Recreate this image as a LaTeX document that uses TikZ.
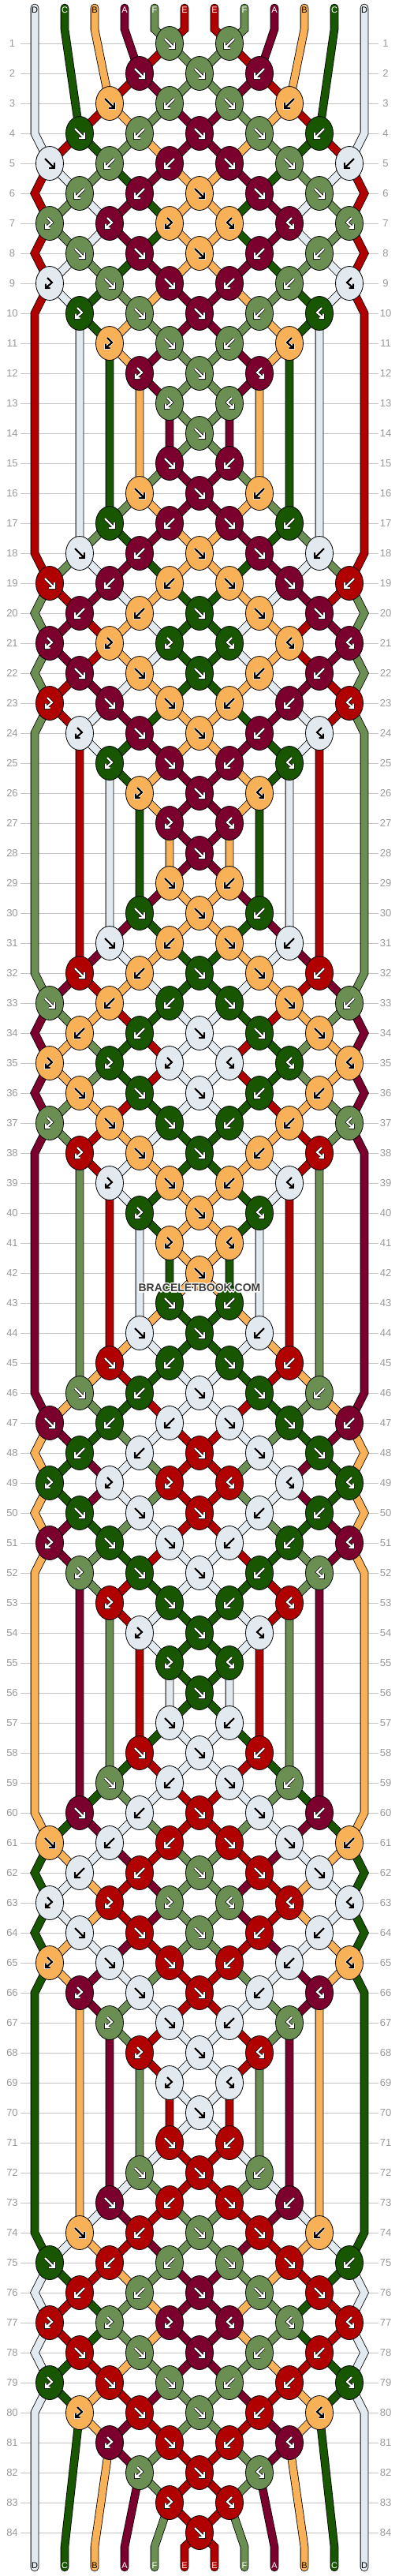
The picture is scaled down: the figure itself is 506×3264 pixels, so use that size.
\documentclass[tikz,border=0pt]{standalone}
\usepackage{fontspec}
\setmainfont{Liberation Sans}
\usetikzlibrary{shapes.geometric}
\definecolor{cD}{HTML}{E2EAF0}
\definecolor{cC}{HTML}{185600}
\definecolor{cB}{HTML}{F9B157}
\definecolor{cA}{HTML}{7B002D}
\definecolor{cF}{HTML}{6B8F52}
\definecolor{cE}{HTML}{B10000}
\definecolor{gridc}{HTML}{C4C4C4}
\definecolor{numc}{HTML}{9A9A9A}
\definecolor{wmc}{HTML}{3C3C3C}
\makeatletter
\newcount\bbr \newcount\bbk \newcount\bbia \newcount\bbib
\newcount\bbx \newcount\bby \newcount\bbt \newcount\bbd \newcount\bbi
\newif\ifbbedge
\def\fg@D{black}\def\fg@C{white}\def\fg@B{black}\def\fg@A{white}\def\fg@F{white}\def\fg@E{white}
\def\bg@D{white}\def\bg@C{black}\def\bg@B{white}\def\bg@A{black}\def\bg@F{black}\def\bg@E{black}
\def\bbinit#1#2{%
  \expandafter\xdef\csname pos@#1\endcsname{#1}%
  \expandafter\xdef\csname lt@#1\endcsname{#2}%
  \expandafter\xdef\csname lr@#1\endcsname{0}%
  \expandafter\xdef\csname lx@#1\endcsname{\the\numexpr 44+38*(#1-1)\relax}%
  \expandafter\xdef\csname pth@#1\endcsname{(\the\numexpr 44+38*(#1-1)\relax,10) -- (\the\numexpr 44+38*(#1-1)\relax,37)}}
\bbinit{1}{D}\bbinit{2}{C}\bbinit{3}{B}\bbinit{4}{A}\bbinit{5}{F}\bbinit{6}{E}
\bbinit{7}{E}\bbinit{8}{F}\bbinit{9}{A}\bbinit{10}{B}\bbinit{11}{C}\bbinit{12}{D}
\def\bbapp#1#2#3{\expandafter\xdef\csname pth@#1\endcsname{\csname pth@#1\endcsname\space -- (#2,#3)}}
\def\bbaddpt#1#2{%
  \edef\bbsid{#1}%
  \edef\bblrow{\csname lr@\bbsid\endcsname}%
  \edef\bblx{\csname lx@\bbsid\endcsname}%
  \bbd=\numexpr\bbr-\bblrow\relax
  \bbedgefalse
  \ifnum#2=1 \def\bbex{44}\bbedgetrue\fi
  \ifnum#2=12 \def\bbex{462}\bbedgetrue\fi
  \ifbbedge
    \ifnum\bbd>1
      \bbapp\bbsid{\bbex}{\the\numexpr 17+38*(\bblrow+1)\relax}%
      \bbapp\bbsid{\bbex}{\the\numexpr 17+38*(\bbr-1)\relax}%
    \fi
  \else
    \ifnum\bbd>1 \ifnum\bblrow>0
      \bbapp\bbsid{\bblx}{\the\numexpr 17+38*(\bbr-1)\relax}%
    \fi\fi
  \fi
  \bbapp\bbsid{\the\bbx}{\the\bby}%
  \expandafter\xdef\csname lr@\bbsid\endcsname{\the\bbr}%
  \expandafter\xdef\csname lx@\bbsid\endcsname{\the\bbx}}
\gdef\bbknots{}
\def\bbswap{%
  \expandafter\xdef\csname pos@\the\bbia\endcsname{\bbidb}%
  \expandafter\xdef\csname pos@\the\bbib\endcsname{\bbida}}
\def\bbknot#1{%
  \if#1x\else
    \ifodd\bbr
      \bbia=\numexpr 2*\bbk-1\relax \bbib=\numexpr 2*\bbk\relax
      \bbx=\numexpr 63+76*(\bbk-1)\relax
    \else
      \bbia=\numexpr 2*\bbk\relax \bbib=\numexpr 2*\bbk+1\relax
      \bbx=\numexpr 101+76*(\bbk-1)\relax
    \fi
    \bby=\numexpr 17+38*\bbr\relax
    \edef\bbida{\csname pos@\the\bbia\endcsname}%
    \edef\bbidb{\csname pos@\the\bbib\endcsname}%
    \bbaddpt\bbida\bbia
    \bbaddpt\bbidb\bbib
    \edef\bbkl{\csname lt@\bbida\endcsname}%
    \if#1b\edef\bbkl{\csname lt@\bbidb\endcsname}\fi
    \if#1B\edef\bbkl{\csname lt@\bbidb\endcsname}\fi
    \edef\bbtmp{\noexpand\kndraw{\the\bbx}{\the\bby}{\bbkl}{#1}}%
    \expandafter\g@addto@macro\expandafter\bbknots\expandafter{\bbtmp}%
    \if#1f\bbswap\fi
    \if#1b\bbswap\fi
  \fi}
\def\bbproc#1{\ifx#1\relax\else\advance\bbk by 1 \bbknot#1\expandafter\bbproc\fi}
\expandafter\def\csname brow@1\endcsname{xxfbxx}
\expandafter\def\csname brow@2\endcsname{xffbx}
\expandafter\def\csname brow@3\endcsname{xfbfbx}
\expandafter\def\csname brow@4\endcsname{fbffb}
\expandafter\def\csname brow@5\endcsname{fbbffb}
\expandafter\def\csname brow@6\endcsname{bbfff}
\expandafter\def\csname brow@7\endcsname{BBBFFF}
\expandafter\def\csname brow@8\endcsname{fffbb}
\expandafter\def\csname brow@9\endcsname{BffbbF}
\expandafter\def\csname brow@10\endcsname{BffbF}
\expandafter\def\csname brow@11\endcsname{xBfbFx}
\expandafter\def\csname brow@12\endcsname{xBfFx}
\expandafter\def\csname brow@13\endcsname{xxBFxx}
\expandafter\def\csname brow@14\endcsname{xxfxx}
\bbr=0
\loop
  \advance\bbr by 1
  \bbt=\bbr \advance\bbt by -1 \divide\bbt by 14 \multiply\bbt by 14
  \bbt=\numexpr\bbr-\bbt\relax
  \bbk=0
  \expandafter\expandafter\expandafter\bbproc\csname brow@\the\bbt\endcsname\relax
\ifnum\bbr<84 \repeat
\def\bbfinish#1{%
  \edef\bbsid{\csname pos@#1\endcsname}%
  \edef\bblrow{\csname lr@\bbsid\endcsname}%
  \bbedgefalse
  \ifnum#1=1 \def\bbex{44}\bbedgetrue\fi
  \ifnum#1=12 \def\bbex{462}\bbedgetrue\fi
  \ifbbedge
    \ifnum\bblrow<84 \bbapp\bbsid{\bbex}{\the\numexpr 17+38*(\bblrow+1)\relax}\fi
    \bbapp\bbsid{\bbex}{3253}%
  \else
    \bbapp\bbsid{\the\numexpr 44+38*(#1-1)\relax}{3227}%
    \bbapp\bbsid{\the\numexpr 44+38*(#1-1)\relax}{3253}%
  \fi}
\bbi=0
\loop\advance\bbi by 1 \expandafter\bbfinish\expandafter{\the\bbi}\ifnum\bbi<12 \repeat
% arrow shapes in local coordinates (y downwards)
\expandafter\def\csname shp@f\endcsname#1{\draw[arr,#1] (-6,-6) -- (5,5) (6,-1) -- (6,6) -- (-1,6);}
\expandafter\def\csname shp@b\endcsname#1{\draw[arr,#1] (6,-6) -- (-5,5) (-6,-1) -- (-6,6) -- (1,6);}
\expandafter\def\csname shp@B\endcsname#1{\draw[arr,#1] (-3,-7) -- (3,-1) -- (-4.5,5.5) (-5,0.5) -- (-5,6) -- (0.5,6);}
\expandafter\def\csname shp@F\endcsname#1{\draw[arr,#1] (3,-7) -- (-3,-1) -- (4.5,5.5) (5,0.5) -- (5,6) -- (-0.5,6);}
\newcommand\kndraw[4]{%
  \edef\kfg{\csname fg@#3\endcsname}\edef\kbg{\csname bg@#3\endcsname}%
  \node[kn,fill=c#3] (k#1x#2) at (#1,#2) {};
  \begin{scope}[shift={(#1,#2)}]
    \csname shp@#4\endcsname{line width=3.6pt,draw=\kbg}%
    \csname shp@#4\endcsname{draw=\kfg}%
  \end{scope}}
\makeatother
\begin{document}
\begin{tikzpicture}[x=1pt,y=-1pt,
  kn/.style={ellipse,draw=black,line width=0.8pt,minimum width=35pt,minimum height=43pt,inner sep=0pt},
  strg/.style={draw=black,line width=0.8pt,double distance=9pt,line cap=round,line join=miter},
  arr/.style={line width=2.2pt,line cap=butt,line join=miter},
  num/.style={text=numc,font=\fontsize{13pt}{13pt}\selectfont,inner sep=0pt},
  lab/.style={font=\fontsize{11pt}{11pt}\selectfont,inner sep=0pt},
  wm/.style={font=\bfseries\fontsize{14pt}{14pt}\selectfont,inner sep=0pt}]
\fill[white] (0,0) rectangle (506,3264);
\useasboundingbox (0,0) rectangle (506,3264);
\foreach \r in {1,...,84}{
  \pgfmathtruncatemacro\yy{17+38*\r}
  \draw[gridc,line width=1pt] (26,\yy) -- (480,\yy);
  \node[num] (nl\r) at (15.5,\yy) {\r};
  \node[num] (nr\r) at (489,\yy) {\r};
}
\makeatletter
\foreach \i in {1,...,12}{
  \edef\cmd{\noexpand\draw[strg,double=c\csname lt@\i\endcsname] \csname pth@\i\endcsname;}\cmd
}
\makeatother
\bbknots
\foreach \i/\L/\C in {1/D/black,2/C/white,3/B/black,4/A/white,5/F/white,6/E/white,7/E/white,8/F/white,9/A/white,10/B/black,11/C/white,12/D/black}{
  \pgfmathtruncatemacro\xx{44+38*(\i-1)}
  \node[lab,text=\C] (t\i) at (\xx,13) {\L};
  \node[lab,text=\C] (b\i) at (\xx,3251) {\L};
}
\foreach \dx/\dy in {-1.2/0,1.2/0,0/-1.2,0/1.2,-0.9/-0.9,0.9/0.9,-0.9/0.9,0.9/-0.9}{
  \node[wm,text=white] at (253+\dx,1632+\dy) {BRACELETBOOK.COM};
}
\node[wm,text=wmc] (wm) at (253,1632) {BRACELETBOOK.COM};
\end{tikzpicture}
\end{document}
